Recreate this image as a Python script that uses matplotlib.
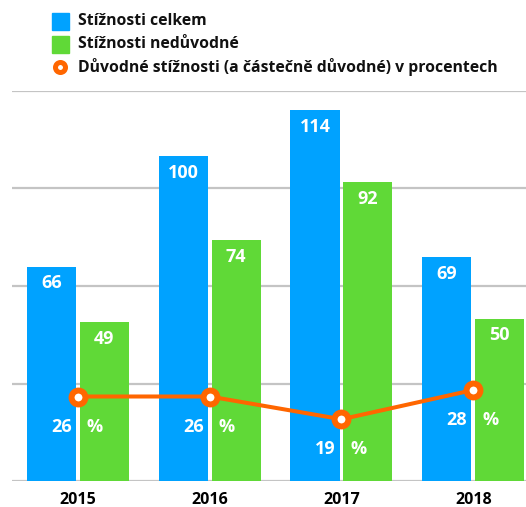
import matplotlib
matplotlib.use('Agg')
import matplotlib.pyplot as plt
from matplotlib.patches import Rectangle
from matplotlib.lines import Line2D

plt.rcParams['font.family'] = ['Open Sans', 'DejaVu Sans']

# data
years = ['2015', '2016', '2017', '2018']
celkem = [66, 100, 114, 69]
neduvodne = [49, 74, 92, 50]
procenta = [26, 26, 19, 28]
legend_labels = ['Stížnosti celkem', 'Stížnosti nedůvodné',
                 'Důvodné stížnosti (a částečně důvodné) v procentech']

blue = '#00A2FF'
green = '#60D937'
orange = '#FF6600'
grid_c = '#C4C4C4'

W, H = 526, 507
fig = plt.figure(figsize=(W / 100, H / 100), dpi=100)
ax = fig.add_axes([12 / W, (H - 481) / H, (W - 12) / W, (481 - 91) / H])

x = list(range(len(years)))
off = 0.201
bw = 0.372

b1 = ax.bar([i - off for i in x], celkem, width=bw, color=blue, zorder=2)
b2 = ax.bar([i + off for i in x], neduvodne, width=bw, color=green, zorder=2)

for rects, vals in [(b1, celkem), (b2, neduvodne)]:
    for r, v in zip(rects, vals):
        ax.annotate(str(v), (r.get_x() + r.get_width() / 2, v),
                    xytext=(0, -17), textcoords='offset pixels',
                    ha='center', va='center', color='white',
                    fontsize=13, fontweight='bold', zorder=4)

ax.plot(x, procenta, color=orange, lw=2.9, marker='o', ms=10,
        mfc='white', mec=orange, mew=4.3, zorder=5)

for i, p in zip(x, procenta):
    ax.annotate(str(p), (i, p), xytext=(-6, -30), textcoords='offset pixels',
                ha='right', va='center', color='white',
                fontsize=13, fontweight='bold', zorder=4)
    ax.annotate('%', (i, p), xytext=(9, -30), textcoords='offset pixels',
                ha='left', va='center', color='white',
                fontsize=13, fontweight='bold', zorder=4)

ax.set_xlim(-0.5, 3.4)
ax.set_ylim(0, 120)
ax.set_yticks([0, 30, 60, 90, 120])
ax.yaxis.grid(True, color=grid_c, lw=1.6, zorder=0)
ax.tick_params(axis='y', left=False, labelleft=False)
ax.set_xticks(x)
ax.set_xticklabels(years, fontsize=11.5, fontweight='bold')
ax.tick_params(axis='x', length=0, pad=8)
for s in ax.spines.values():
    s.set_visible(False)
ax.set_axisbelow(True)

# legend
rows_y = [21, 44, 67]
for k, (lab, yy) in enumerate(zip(legend_labels, rows_y)):
    if k < 2:
        fig.add_artist(Rectangle((52 / W, (H - yy - 8.5) / H), 17 / W, 17 / H,
                                 transform=fig.transFigure,
                                 color=[blue, green][k]))
    else:
        fig.add_artist(Line2D([60 / W], [(H - yy) / H], transform=fig.transFigure,
                              marker='o', ms=7.2, mfc='white', mec=orange, mew=3.6))
    fig.text(78 / W, (H - yy) / H, lab, ha='left', va='center',
             fontsize=11.3, fontweight='bold', color='#111111')

fig.savefig('out.png', dpi=100)
